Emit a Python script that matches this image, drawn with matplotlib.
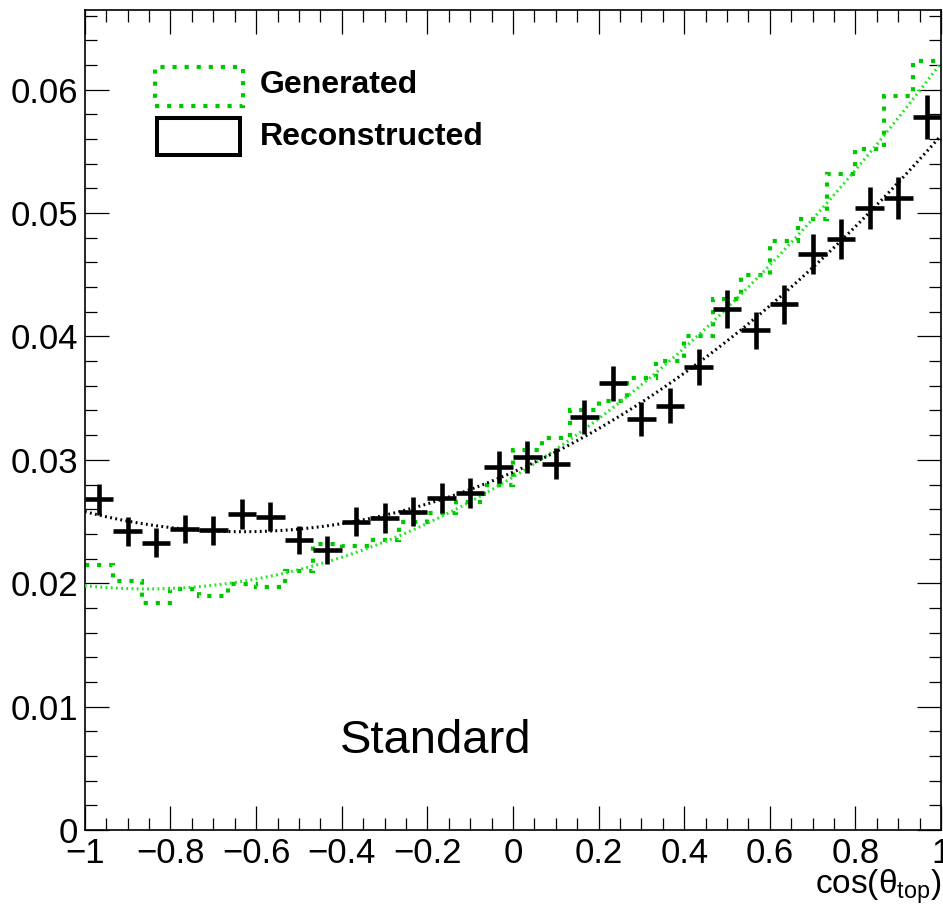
import matplotlib
matplotlib.use('Agg')
import matplotlib.pyplot as plt
from matplotlib.patches import Rectangle
from matplotlib.ticker import MultipleLocator, FixedLocator
import numpy as np

plt.rcParams['font.family'] = ['Liberation Sans', 'DejaVu Sans']
plt.rcParams['mathtext.fontset'] = 'custom'
plt.rcParams['mathtext.rm'] = 'Liberation Sans'
plt.rcParams['mathtext.it'] = 'Liberation Sans:italic'

# 30 bins in cos(theta_top)
bin_edges = np.linspace(-1, 1, 31)
bin_centers = 0.5 * (bin_edges[:-1] + bin_edges[1:])
bin_half = 0.5 * (bin_edges[1] - bin_edges[0])

generated = [0.0215, 0.0202, 0.0184, 0.0195, 0.0190, 0.0199, 0.0197, 0.0210, 0.0232, 0.0230,
             0.0235, 0.0250, 0.0257, 0.0266, 0.0280, 0.0308, 0.0318, 0.0340, 0.0348, 0.0366,
             0.0380, 0.0400, 0.0430, 0.0450, 0.0477, 0.0495, 0.0532, 0.0552, 0.0595, 0.0623]

reconstructed = [0.0268, 0.0242, 0.0233, 0.0244, 0.0243, 0.0256, 0.0254, 0.0235, 0.0227, 0.0250,
                 0.0253, 0.0258, 0.0269, 0.0273, 0.0294, 0.0302, 0.0297, 0.0335, 0.0362, 0.0333,
                 0.0344, 0.0375, 0.0422, 0.0405, 0.0426, 0.0467, 0.0479, 0.0504, 0.0512, 0.0578]

reco_err = [0.00123, 0.00117, 0.00114, 0.00117, 0.00117, 0.00120, 0.00120, 0.00115, 0.00113, 0.00119,
            0.00119, 0.00120, 0.00123, 0.00124, 0.00129, 0.00130, 0.00129, 0.00137, 0.00143, 0.00137,
            0.00139, 0.00145, 0.00154, 0.00151, 0.00155, 0.00162, 0.00164, 0.00168, 0.00170, 0.00180]

# quadratic fit parameters p0 + p1*x + p2*x^2
fit_gen = [0.0286, 0.0212, 0.0124]
fit_rec = [0.0290, 0.01525, 0.01205]

green = '#00c800'
green_fit = '#22e622'

fig = plt.figure(figsize=(9.43, 9.06), dpi=100)
ax = fig.add_axes([0.090, 0.0839, 0.908, 0.9056])

ax.stairs(generated, bin_edges, baseline=None, color=green, linewidth=3,
          linestyle=(0, (1, 1.9)), zorder=2)

xf = np.linspace(-1, 1, 300)
ax.plot(xf, np.polyval(fit_gen[::-1], xf), color=green_fit, linewidth=2.2,
        linestyle=(0, (0.6, 1.1)), zorder=3)
ax.plot(xf, np.polyval(fit_rec[::-1], xf), color='black', linewidth=2.2,
        linestyle=(0, (0.6, 1.1)), zorder=3)

ax.errorbar(bin_centers, reconstructed, xerr=bin_half, yerr=reco_err, fmt='none',
            ecolor='black', elinewidth=3.3, capsize=0, zorder=4)

ax.set_xlim(-1, 1)
ax.set_ylim(0, 0.0665)

ax.xaxis.set_major_locator(MultipleLocator(0.2))
ax.xaxis.set_minor_locator(MultipleLocator(0.05))
ax.yaxis.set_major_locator(FixedLocator([0, 0.01, 0.02, 0.03, 0.04, 0.05, 0.06]))
ax.yaxis.set_minor_locator(MultipleLocator(0.002))


def xfmt(v, pos):
    s = '%g' % round(v, 3)
    return s.replace('-', '\u2212')


ax.xaxis.set_major_formatter(plt.FuncFormatter(xfmt))
ax.yaxis.set_major_formatter(plt.FuncFormatter(lambda v, p: '%g' % round(v, 4)))

ax.tick_params(which='both', direction='in', top=True, right=True, width=0.9,
               labelsize=25, pad=5)
ax.tick_params(which='major', length=17)
ax.tick_params(which='minor', length=8.5)
for sp in ax.spines.values():
    sp.set_linewidth(1.2)

ax.set_xlabel(r'cos($\mathregular{\theta_{top}}$)', fontsize=24, loc='right', labelpad=-2)

# legend boxes
ax.add_patch(Rectangle((0.082, 0.882), 0.103, 0.048, transform=ax.transAxes, fill=False,
                       edgecolor=green, linewidth=3, linestyle=(0, (1, 1.9)), zorder=5))
ax.add_patch(Rectangle((0.084, 0.823), 0.097, 0.045, transform=ax.transAxes, fill=False,
                       edgecolor='black', linewidth=2.9, zorder=5))
ax.text(0.204, 0.908, 'Generated', transform=ax.transAxes, fontsize=23,
        fontweight='bold', va='center', ha='left')
ax.text(0.204, 0.845, 'Reconstructed', transform=ax.transAxes, fontsize=23,
        fontweight='bold', va='center', ha='left')

ax.text(0.4095, 0.094, 'Standard', transform=ax.transAxes, fontsize=34,
        ha='center', va='baseline')

fig.savefig('out.png', dpi=100)
